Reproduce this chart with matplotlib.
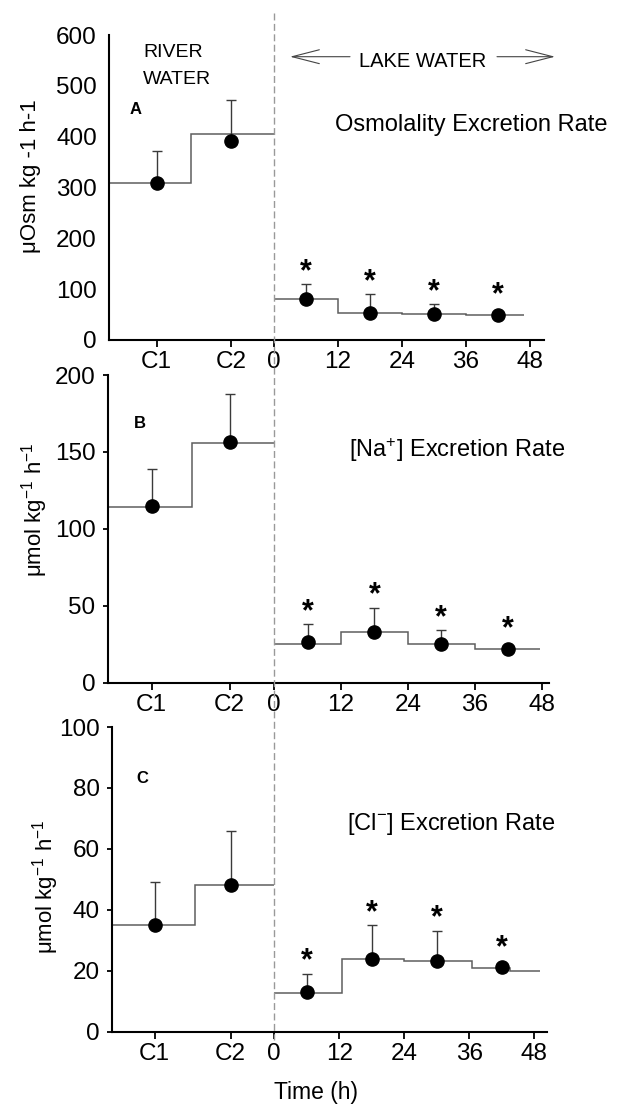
import matplotlib
matplotlib.use('Agg')
import matplotlib.pyplot as plt
from matplotlib.lines import Line2D
from matplotlib.patches import FancyArrowPatch

plt.rcParams['font.family'] = ['Liberation Sans', 'DejaVu Sans']
plt.rcParams['mathtext.fontset'] = 'custom'
plt.rcParams['mathtext.rm'] = 'Liberation Sans'
plt.rcParams['mathtext.it'] = 'Liberation Sans:italic'
plt.rcParams['mathtext.bf'] = 'Liberation Sans:bold'
plt.rcParams['mathtext.default'] = 'regular'

# ---------------- data ----------------
x_tick_labels = ['C1', 'C2', '0', '12', '24', '36', '48']
control_x = [-22, -8]
lake_x = [6, 18, 30, 42]
lake_ticks = [0, 12, 24, 36, 48]

osm_control = [308, 391]
osm_control_err = [64, 82]
osm_lake = [80, 54, 51, 50]
osm_lake_err = [30, 36, 19, 0]
osm_control_edges = [-31, -15.5, 0]
osm_control_steps = [308, 405]
osm_lake_edges = [0, 12, 24, 36, 47]
osm_lake_steps = [80, 54, 51, 50]

na_control = [115, 156.5]
na_control_err = [24, 31]
na_lake = [26.6, 33, 25, 22]
na_lake_err = [11.4, 15.7, 9, 0]
na_control_edges = [-30, -14.8, 0]
na_control_steps = [114, 156]
na_lake_edges = [0, 12, 24, 36, 47.7]
na_lake_steps = [25, 33, 25, 22]

cl_control = [35, 48]
cl_control_err = [14, 18]
cl_lake = [13.1, 24, 23.2, 21.2]
cl_lake_err = [6, 11, 10, 0]
cl_control_edges = [-30, -14.6, 0]
cl_control_steps = [35, 48]
cl_lake_edges = [0, 12.5, 24, 36.5, 43.5, 49]
cl_lake_steps = [12.6, 24, 23.2, 21, 20]

# ---------------- layout ----------------
W, H = 621, 1106
fig = plt.figure(figsize=(W / 100, H / 100), dpi=100)


def fx(px):
    return px / W


def fy(py):
    return 1 - py / H


def rect(l, r, top, bot):
    return [l / W, 1 - bot / H, (r - l) / W, (bot - top) / H]


panels = [
    dict(rect=rect(108.7, 543.5, 35, 340), xlim=(-31, 50.6), ylim=(0, 600),
         yticks=list(range(0, 601, 100)), ytl=0,
         c=osm_control, ce=osm_control_err, l=osm_lake, le=osm_lake_err,
         cedges=osm_control_edges, csteps=osm_control_steps,
         ledges=osm_lake_edges, lsteps=osm_lake_steps,
         letter='A', letter_pos=(129.3, 114.3),
         title='Osmolality Excretion Rate', title_pos=(335, 130.7),
         ylabel='μOsm kg -1 h-1', ylabel_pos=(31, 176)),
    dict(rect=rect(107.5, 549.4, 375, 682.7), xlim=(-29.9, 49.4), ylim=(0, 200),
         yticks=list(range(0, 201, 50)), ytl=3.6,
         c=na_control, ce=na_control_err, l=na_lake, le=na_lake_err,
         cedges=na_control_edges, csteps=na_control_steps,
         ledges=na_lake_edges, lsteps=na_lake_steps,
         letter='B', letter_pos=(134, 428.3),
         title='[Na$^{+}$] Excretion Rate', title_pos=(349, 456.7),
         ylabel='μmol kg$^{-1}$ h$^{-1}$', ylabel_pos=(34.6, 510)),
    dict(rect=rect(111.9, 547.4, 727, 1031.7), xlim=(-29.9, 50.4), ylim=(0, 100),
         yticks=list(range(0, 101, 20)), ytl=3.6,
         c=cl_control, ce=cl_control_err, l=cl_lake, le=cl_lake_err,
         cedges=cl_control_edges, csteps=cl_control_steps,
         ledges=cl_lake_edges, lsteps=cl_lake_steps,
         letter='C', letter_pos=(136.4, 782.7),
         title='[Cl$^{-}$] Excretion Rate', title_pos=(347, 830),
         ylabel='μmol kg$^{-1}$ h$^{-1}$', ylabel_pos=(45.5, 887)),
]

step_color = '#5e5e5e'
err_color = '#3a3a3a'
axes = []
for p in panels:
    ax = fig.add_axes(p['rect'])
    axes.append(ax)
    ax.set_xlim(*p['xlim'])
    ax.set_ylim(*p['ylim'])
    for s in ['top', 'right']:
        ax.spines[s].set_visible(False)
    for s in ['left', 'bottom']:
        ax.spines[s].set_linewidth(1.5)
        ax.spines[s].set_color('black')

    ax.stairs(p['csteps'], p['cedges'], baseline=None, color=step_color, lw=1.1, zorder=2)
    ax.stairs(p['lsteps'], p['ledges'], baseline=None, color=step_color, lw=1.1, zorder=2)

    xs = control_x + lake_x
    ys = p['c'] + p['l']
    es = p['ce'] + p['le']
    ax.errorbar(xs, ys, yerr=[[0] * len(es), es], fmt='none', ecolor=err_color,
                elinewidth=1.0, capsize=3.3, capthick=1.0, zorder=3)
    ax.plot(xs, ys, 'o', color='black', markersize=9.5, zorder=4)

    for x, y, e in zip(lake_x, p['l'], p['le']):
        off = 3.0 if e > 0 else 8.0
        ax.annotate('*', xy=(x, y + e), xytext=(0, off), textcoords='offset points',
                    ha='center', va='baseline', fontsize=22, fontweight='bold',
                    color='black')

    ax.set_xticks(control_x + lake_ticks)
    ax.set_xticklabels(x_tick_labels)
    ax.set_yticks(p['yticks'])
    ax.tick_params(axis='x', direction='out', length=5, width=1.3, labelsize=17.5, pad=3)
    ax.tick_params(axis='y', direction='out', length=p['ytl'], width=1.3, labelsize=17.5,
                   pad=8.6 if p['ytl'] == 0 else 5)

    fig.text(fx(p['letter_pos'][0]), fy(p['letter_pos'][1]), p['letter'],
             fontsize=12, fontweight='bold', ha='left', va='baseline')
    fig.text(fx(p['title_pos'][0]), fy(p['title_pos'][1]), p['title'],
             fontsize=17, ha='left', va='baseline')
    fig.text(fx(p['ylabel_pos'][0]), fy(p['ylabel_pos'][1]), p['ylabel'],
             fontsize=16, rotation=90, ha='center', va='center')

# dashed separator at time 0
x0 = fig.transFigure.inverted().transform(axes[0].transData.transform((0, 0)))[0]
fig.add_artist(Line2D([x0, x0], [fy(13), fy(1040)], transform=fig.transFigure,
                      color='#999999', lw=1.0, ls=(0, (5, 2.5)), zorder=1))

# top annotations
fig.text(fx(143.3), fy(57.3), 'RIVER', fontsize=14, ha='left', va='baseline')
fig.text(fx(143.3), fy(84), 'WATER', fontsize=14, ha='left', va='baseline')
fig.text(fx(422.5), fy(67.3), 'LAKE WATER', fontsize=14.5, ha='center', va='baseline')
arrow_style = '->, head_length=1.95, head_width=0.5'
for tip, tail in [(290, 350), (555, 497)]:
    fig.add_artist(FancyArrowPatch(
        (fx(tail), fy(56.7)), (fx(tip), fy(56.7)), transform=fig.transFigure,
        arrowstyle=arrow_style, mutation_scale=10, color='#444444', lw=0.8,
        shrinkA=0, shrinkB=0))

fig.text(fx(315.5), fy(1093), 'Time (h)', fontsize=16.5, ha='center', va='center')

fig.savefig('out.png', dpi=100)
